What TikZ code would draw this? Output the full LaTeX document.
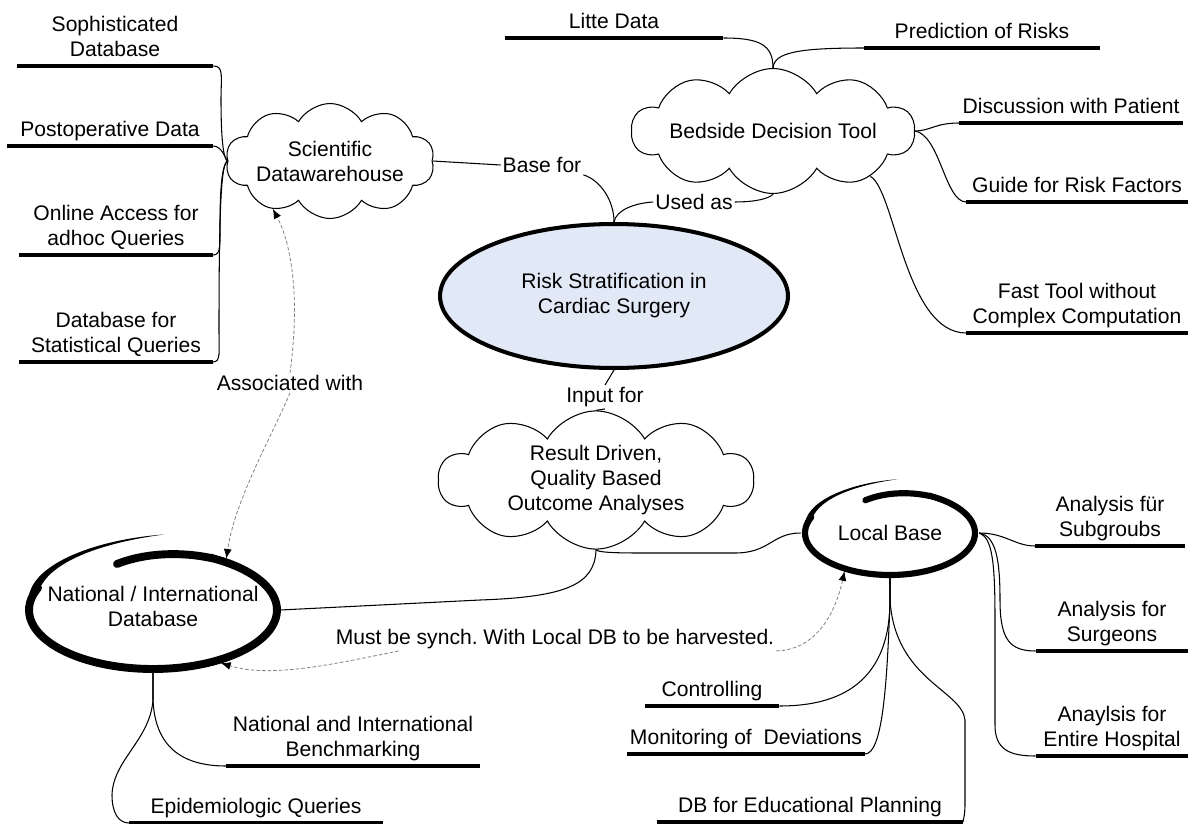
\documentclass[tikz,border=0pt]{standalone}
\usepackage{fontspec}
\setmainfont{Liberation Sans}
\usetikzlibrary{shapes.symbols,shapes.geometric,arrows.meta}

\definecolor{riskblue}{RGB}{226,233,246}

% hand drawn ring: centre x, centre y, radius x, radius y, stroke width
\newcommand{\scribble}[5]{%
  \begin{scope}[shift={(#1,#2)}, xscale=#3, yscale=#4]
    \draw[line width=#5, line cap=round] (-0.29,-0.78) .. controls (-0.05,-0.98) and (0.25,-0.99) .. (0.5,-0.866)
      -- plot[domain=0:262, samples=70, smooth] ({cos(60-\x)},{-sin(60-\x)});
    \fill (-1.0,-0.25) .. controls (-0.95,-0.8) and (-0.45,-1.2) .. (0.09,-1.28)
      .. controls (-0.45,-1.13) and (-0.88,-0.78) .. (-0.93,-0.25) -- cycle;
  \end{scope}}

\begin{document}
\frenchspacing
\begin{tikzpicture}[x=0.02cm, y=-0.02cm,
    every node/.style={font=\fontsize{12}{14.2}\selectfont, align=center},
    leaf/.style={anchor=south, inner xsep=0pt, inner ysep=5.4pt, text depth=0pt},
    uline/.style={line width=2.3pt},
    conn/.style={line width=0.6pt},
    link/.style={gray, line width=0.45pt, dash pattern=on 2pt off 1.2pt,
      -{Latex[length=5.5pt,width=4.5pt,color=black]}},
    puff/.style={cloud, draw, line width=0.6pt, cloud puffs=10, cloud puff arc=120,
      cloud ignores aspect, inner sep=0pt},
    ring/.style={ellipse, inner sep=0pt},
    tag/.style={inner sep=1pt}]
  \useasboundingbox (0,0) rectangle (1189,824);

  % main nodes
  \node[ellipse, draw, line width=2.3pt, fill=riskblue, minimum width=6.96cm, minimum height=2.88cm]
    (risk) at (614,296) {Risk Stratification in\\Cardiac Surgery};
  \node[puff, minimum width=3.86cm, minimum height=2.3cm] (sdw) at (330,161) {Scientific\\Datawarehouse};
  \node[puff, minimum width=5.6cm, minimum height=2.5cm] (bdt) at (773,131) {Bedside Decision Tool};
  \node[puff, minimum width=6.3cm, minimum height=2.3cm] (rdq) at (596,480) {Result Driven,\\Quality Based\\Outcome Analyses};
  \node[ring, minimum width=5.08cm, minimum height=2.5cm] (natdb) at (153,610) {};
  \node (natlabel) at (153,606) {National / International\\Database};
  \node[ring, minimum width=3.56cm, minimum height=1.76cm] (locbase) at (890,533) {};
  \node (loclabel) at (890,533) {Local Base};
  \scribble{153}{610}{124}{59}{4.5pt}
  \scribble{890}{533}{85}{42}{3.5pt}

  % leaves
  \node[leaf, minimum width=3.92cm] (soph) at (115,66) {Sophisticated\\Database};
  \node[leaf, minimum width=4.12cm] (postop) at (110,146) {Postoperative Data};
  \node[leaf, minimum width=3.86cm] (online) at (116,255) {Online Access for\\adhoc Queries};
  \node[leaf, minimum width=3.86cm] (statq) at (116,362) {Database for\\Statistical Queries};
  \node[leaf, minimum width=4.36cm] (litte) at (614,38) {Litte Data};
  \node[leaf, minimum width=4.7cm] (pred) at (982,48) {Prediction of Risks};
  \node[leaf, minimum width=4.46cm] (disc) at (1071,123) {Discussion with Patient};
  \node[leaf, minimum width=4.42cm] (guide) at (1077,202) {Guide for Risk Factors};
  \node[leaf, minimum width=4.42cm] (fast) at (1077,333) {Fast Tool without\\Complex Computation};
  \node[leaf, minimum width=2.98cm] (sub) at (1110,546) {Analysis für\\Subgroubs};
  \node[leaf, minimum width=3.04cm] (surg) at (1112,651) {Analysis for\\Surgeons};
  \node[leaf, minimum width=3.04cm] (hosp) at (1112,756) {Anaylsis for\\Entire Hospital};
  \node[leaf, minimum width=2.68cm] (ctrl) at (712,706) {Controlling};
  \node[leaf, minimum width=4.74cm] (mon) at (746,754) {Monitoring of\ \ Deviations};
  \node[leaf, minimum width=6.12cm] (edu) at (810,822) {DB for Educational Planning};
  \node[leaf, minimum width=5.06cm] (bench) at (353,766) {National and International\\Benchmarking};
  \node[leaf, minimum width=5.06cm] (epi) at (256,823) {Epidemiologic Queries};
  \foreach \n in {soph,postop,online,statq,litte,pred,disc,guide,fast,sub,surg,hosp,ctrl,mon,edu,bench,epi}
    \draw[uline] (\n.south west) -- (\n.south east);

  % labels on links
  \node[tag] (basefor) at (542,165) {Base for};
  \node[tag] (usedas) at (694,202) {Used as};
  \node[tag] (inputfor) at (605,397) {Input for};
  \node[tag] (assoc) at (290,383) {Associated with};
  \node[tag] (synch) at (555,639) {Must be synch. With Local DB to be harvested.};

  % datawarehouse branch
  \draw[conn] (soph.south east) .. controls (224,66) and (221,76) .. (221,100) .. controls (221,150) and (225,160) .. (sdw.west);
  \draw[conn] (postop.south east) .. controls (222,146) and (226,160) .. (sdw.west);
  \draw[conn] (online.south east) .. controls (221,255) and (220,246) .. (220,225) .. controls (220,175) and (224,163) .. (sdw.west);
  \draw[conn] (statq.south east) .. controls (221,362) and (219,352) .. (219,330) .. controls (219,190) and (222,165) .. (sdw.west);
  \draw[conn] (sdw.east) -- (basefor.west);
  \draw[conn] (basefor.south east) .. controls (600,180) and (614,200) .. (risk.north);
  \draw[conn] (risk.north) .. controls (616,210) and (635,203) .. (usedas.west);
  \draw[conn] (usedas.east) .. controls (765,202) and (773,195) .. (bdt.south);

  % bedside branch
  \draw[conn] (litte.south east) .. controls (760,38) and (773,45) .. (773,68) -- (bdt.north);
  \draw[conn] (bdt.north) -- (773,68) .. controls (774,52) and (800,48) .. (pred.south west);
  \draw[conn] (bdt.east) .. controls (930,131) and (935,123) .. (disc.south west);
  \draw[conn] (bdt.east) .. controls (940,135) and (945,202) .. (guide.south west);
  \draw[conn] (bdt.-25) .. controls (895,190) and (905,333) .. (fast.south west);

  % outcome analyses
  \draw[conn] (risk.south) -- (inputfor.north);
  \draw[conn] (inputfor.south) -- (rdq.north);
  \draw[conn] (rdq.south) .. controls (597,552) and (610,553) .. (640,553) -- (735,553) .. controls (770,553) and (772,533) .. (locbase.west);
  \draw[conn] (rdq.south) .. controls (595,585) and (565,597) .. (480,600) -- (natdb.east);

  % local base
  \draw[conn] (locbase.east) .. controls (1005,533) and (1015,546) .. (sub.south west);
  \draw[conn] (locbase.east) .. controls (996,536) and (1000,560) .. (1000,600) .. controls (1000,640) and (1010,651) .. (surg.south west);
  \draw[conn] (locbase.east) .. controls (992,538) and (995,560) .. (995,620) -- (995,725) .. controls (995,750) and (1010,756) .. (hosp.south west);
  \draw[conn] (locbase.south) -- (890,600) .. controls (890,690) and (830,706) .. (ctrl.south east);
  \draw[conn] (locbase.south) -- (890,600) .. controls (887,690) and (882,754) .. (mon.south east);
  \draw[conn] (locbase.south) -- (890,600) .. controls (895,680) and (962,690) .. (965,720) -- (965,805) .. controls (965,818) and (962,822) .. (edu.south east);

  % national database
  \draw[conn] (natdb.south) -- (153,700) .. controls (155,745) and (180,766) .. (bench.south west);
  \draw[conn] (natdb.south) -- (153,700) .. controls (150,740) and (113,760) .. (112,795) .. controls (112,812) and (118,823) .. (epi.south west);

  % dashed links
  \draw[link] (assoc.north) .. controls (300,300) and (292,245) .. (sdw.220);
  \draw[link] (assoc.south) .. controls (270,440) and (235,500) .. (natdb.35);
  \draw[link] ([xshift=1.3cm]synch.south west) .. controls (330,665) and (270,678) .. (natdb.-38);
  \draw[link] (synch.south east) .. controls (815,650) and (835,615) .. (locbase.220);
\end{tikzpicture}
\end{document}
